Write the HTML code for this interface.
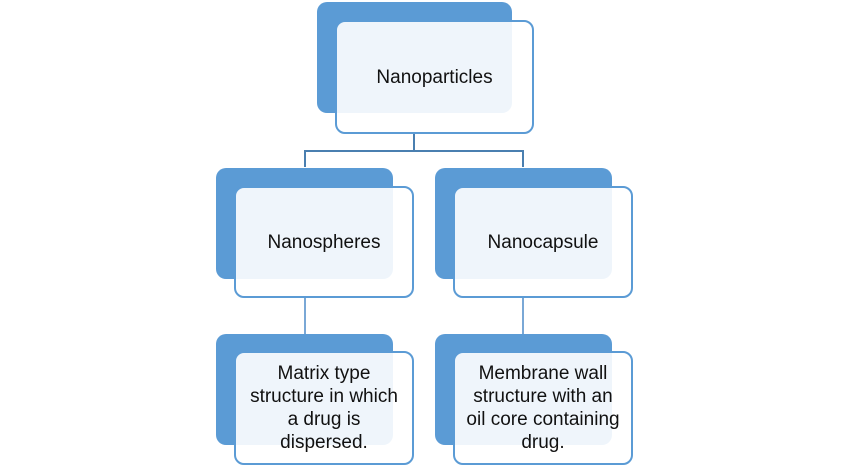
<!DOCTYPE html>
<html><head><meta charset="utf-8"><style>
body{margin:0;width:848px;height:468px;background:#fff;position:relative;overflow:hidden;font-family:"Liberation Sans",sans-serif}
.b{position:absolute;background:#5b9bd5;border-radius:10px}
.f{position:absolute;background:rgba(255,255,255,0.9);border:2px solid #5b9bd5;border-radius:10px;box-sizing:border-box;display:flex;align-items:center;justify-content:center;text-align:center;font-size:19px;color:#111;line-height:23px}
.l{position:absolute;background:#4a7fb0}
</style></head><body>
<div class="b" style="left:317px;top:2px;width:195px;height:111px"></div>
<div class="b" style="left:216px;top:168px;width:177px;height:111px"></div>
<div class="b" style="left:435px;top:168px;width:177px;height:111px"></div>
<div class="b" style="left:216px;top:334px;width:177px;height:111px"></div>
<div class="b" style="left:435px;top:334px;width:177px;height:111px"></div>
<div class="l" style="left:413px;top:133px;width:2px;height:18px"></div>
<div class="l" style="left:304px;top:150px;width:220px;height:2px"></div>
<div class="l" style="left:304px;top:150px;width:2px;height:17px"></div>
<div class="l" style="left:522px;top:150px;width:2px;height:17px"></div>
<div class="l" style="left:304px;top:297px;width:2px;height:37px;background:#7aa8d6"></div>
<div class="l" style="left:522px;top:297px;width:2px;height:37px;background:#7aa8d6"></div>
<div class="f" style="left:335px;top:20px;width:199px;height:114px">Nanoparticles</div>
<div class="f" style="left:234px;top:186px;width:180px;height:112px">Nanospheres</div>
<div class="f" style="left:453px;top:186px;width:180px;height:112px">Nanocapsule</div>
<div class="f" style="left:234px;top:351px;width:180px;height:114px">Matrix type<br>structure in which<br>a drug is<br>dispersed.</div>
<div class="f" style="left:453px;top:351px;width:180px;height:114px">Membrane wall<br>structure with an<br>oil core containing<br>drug.</div>
</body></html>
